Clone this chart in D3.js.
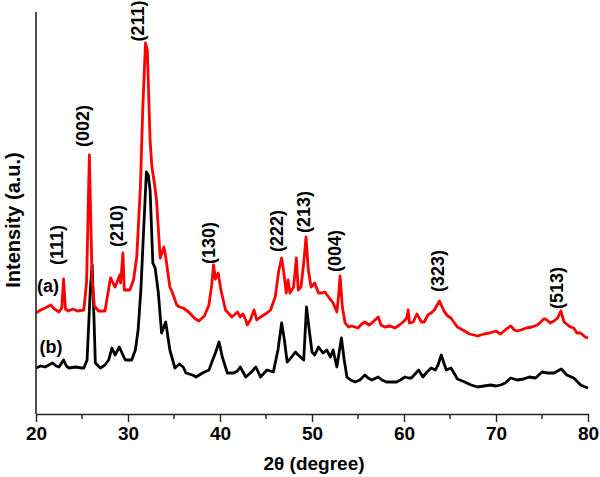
<!DOCTYPE html>
<html>
<head>
<meta charset="utf-8">
<script src="https://cdn.jsdelivr.net/npm/d3@7"></script>
<style>
  body { margin: 0; background: #fff; }
  text { font-family: "Liberation Sans", Arial, sans-serif; font-weight: bold; }
</style>
</head>
<body>
<svg id="chart" width="600" height="477"></svg>
<script>
"use strict";

// pattern (a), red: [2theta, intensity (a.u.)]
var patternA = [
  [20.0,101],[20.5,104],[21.0,106],[21.6,109],[22.0,105],[22.5,102],[22.8,106],[23.0,135],[23.2,105],
  [23.5,103],[24.0,105],[24.5,103],[25.2,104],[25.5,132],[25.8,259],[26.1,134],[26.35,108],[26.8,103],
  [27.5,103],[28.1,136],[28.6,127],[29.1,139],[29.2,131],[29.45,161],[29.6,124],[30.2,124],[30.6,134],
  [30.95,157],[31.35,227],[31.6,304],[31.9,371],[32.1,364],[32.4,274],[32.6,247],[32.85,232],[33.1,214],
  [33.5,156],[33.9,167],[34.1,157],[34.55,127],[34.8,122],[35.3,109],[35.6,107],[36.0,106],[36.6,102],
  [37.2,96],[37.7,93],[38.3,98],[38.8,109],[39.1,129],[39.3,149],[39.5,135],[39.8,141],[40.1,124],
  [40.6,104],[41.3,97],[41.9,102],[42.2,97],[42.5,100],[42.8,94],[42.95,89],[43.3,94],[43.7,104],
  [44.0,94],[44.4,97],[44.75,99],[45.1,101],[45.5,104],[46.0,117],[46.4,144],[46.7,156],[46.9,144],
  [47.2,121],[47.4,134],[47.6,121],[48.0,127],[48.3,156],[48.5,124],[48.8,127],[49.1,151],[49.35,177],
  [49.6,144],[49.9,127],[50.3,131],[50.7,121],[51.1,121],[51.4,122],[51.8,117],[52.3,111],[52.7,102],
  [52.9,119],[53.05,138],[53.3,107],[53.6,91],[54.0,87],[54.3,88],[55.0,86],[55.4,90],[55.75,92],
  [56.2,89],[56.5,91],[57.2,97],[57.5,89],[57.9,87],[58.5,88],[59.0,86],[59.5,89],[59.9,92],
  [60.3,96],[60.45,104],[60.6,91],[61.0,92],[61.4,100],[61.9,92],[62.2,92],[62.6,99],[62.95,101],
  [63.3,104],[63.85,113],[64.1,108],[64.4,102],[64.75,98],[65.1,96],[65.8,87],[66.6,83],[67.1,80],
  [67.6,79],[68.0,78],[68.7,80],[69.3,81],[70.0,83],[70.5,80],[71.0,84],[71.6,88],[72.0,84],
  [72.3,83],[72.7,84],[73.3,86],[73.9,87],[74.5,89],[75.2,95],[75.4,95],[75.9,91],[76.3,93],
  [76.7,96],[77.05,103],[77.4,92],[77.8,89],[78.1,87],[78.45,86],[78.8,81],[79.2,81],[79.7,77],[80.0,76]
];

// pattern (b), black
var patternB = [
  [20.0,46],[20.5,48],[21.0,47],[21.8,51],[22.2,48],[22.5,47],[23.0,54],[23.3,48],[23.6,46],
  [24.3,47],[25.0,46],[25.2,46],[25.55,54],[25.9,124],[26.1,149],[26.3,97],[26.45,51],[27.0,46],
  [27.5,49],[27.9,54],[28.25,66],[28.6,59],[29.05,67],[29.3,62],[29.7,54],[30.4,54],[30.8,64],
  [31.1,84],[31.4,124],[31.7,184],[32.0,242],[32.2,239],[32.4,224],[32.7,151],[32.95,146],[33.3,121],
  [33.65,81],[34.1,92],[34.55,64],[35.1,46],[35.6,50],[36.0,47],[36.3,41],[37.0,39],[37.4,37],
  [38.1,41],[38.8,44],[39.2,54],[39.5,61],[39.9,72],[40.25,57],[40.8,41],[41.5,41],[41.9,43],
  [42.2,47],[42.8,37],[43.3,41],[43.9,47],[44.4,37],[45.1,44],[45.8,42],[46.3,64],[46.7,91],
  [47.0,74],[47.3,52],[47.7,56],[48.2,62],[48.5,59],[49.1,54],[49.4,107],[49.7,84],[50.0,62],
  [50.3,59],[50.7,67],[51.2,61],[51.6,64],[52.0,57],[52.3,64],[52.7,47],[53.2,76],[53.5,54],
  [53.8,37],[54.2,34],[54.7,32],[55.2,34],[55.75,39],[56.1,36],[56.5,34],[57.2,37],[57.6,34],
  [58.1,32],[58.6,32],[59.2,32],[59.6,34],[60.1,37],[60.5,36],[60.8,36],[61.2,40],[61.6,44],
  [62.05,37],[62.5,42],[62.95,46],[63.4,44],[63.7,49],[64.05,59],[64.3,52],[64.6,44],[65.1,46],
  [65.5,40],[65.8,35],[66.6,32],[67.3,29],[68.0,27],[68.7,28],[69.4,29],[70.0,28],[70.5,29],
  [71.0,31],[71.6,36],[72.3,34],[73.0,35],[73.6,37],[74.3,36],[75.0,42],[75.6,41],[76.3,41],
  [76.7,43],[77.1,45],[77.7,39],[78.45,36],[79.2,29],[79.7,27],[80.0,26]
];

// reflection labels
var hklNames = ["(111)","(002)","(211)","(210)","(130)","(222)","(213)","(004)","(323)","(513)"];
var hklTheta = [22.3, 25.1, 31.0, 28.75, 38.8, 46.2, 49.1, 52.5, 63.7, 76.65];
var hklLevel = [169, 288, 393, 188, 171, 183, 202, 163, 143, 126];

var xTicks = [20, 30, 40, 50, 60, 70, 80];
var xMinorTicks = [25, 35, 45, 55, 65, 75];

var svg = d3.select("#chart");

var x = d3.scaleLinear().domain([20, 80]).range([36, 588]);
var y = d3.scaleLinear().domain([0, 402]).range([414, 12]);

var line = d3.line()
    .x(function(d) { return x(d[0]); })
    .y(function(d) { return y(d[1]); });

svg.append("path").datum(patternB)
    .attr("d", line)
    .attr("fill", "none")
    .attr("stroke", "#000")
    .attr("stroke-width", 2.8)
    .attr("stroke-linejoin", "round");

svg.append("path").datum(patternA)
    .attr("d", line)
    .attr("fill", "none")
    .attr("stroke", "#ff0000")
    .attr("stroke-width", 2.8)
    .attr("stroke-linejoin", "round");

// bottom axis
var xAxis = d3.axisBottom(x).tickValues(xTicks).tickSize(8).tickSizeOuter(0).tickPadding(5);
var gx = svg.append("g").attr("transform", "translate(0," + y(0) + ")").call(xAxis);
gx.select(".domain").attr("stroke", "#222").attr("stroke-width", 1.6);
gx.selectAll(".tick line").attr("stroke", "#222").attr("stroke-width", 1.4);
gx.selectAll(".tick text")
    .attr("font-size", 19)
    .attr("font-family", "Liberation Sans, Arial, sans-serif")
    .attr("font-weight", "bold")
    .attr("fill", "#000");

gx.selectAll(".minor").data(xMinorTicks).enter().append("line")
    .attr("x1", function(d) { return x(d); })
    .attr("x2", function(d) { return x(d); })
    .attr("y1", 0).attr("y2", 5)
    .attr("stroke", "#222").attr("stroke-width", 1.4);

// left axis, no ticks
svg.append("line")
    .attr("x1", x(20)).attr("x2", x(20))
    .attr("y1", y(402)).attr("y2", y(0))
    .attr("stroke", "#222").attr("stroke-width", 1.6);

// axis titles
svg.append("text")
    .attr("x", 314).attr("y", 470)
    .attr("text-anchor", "middle")
    .attr("font-size", 19)
    .text("2θ (degree)");

svg.append("text")
    .attr("transform", "translate(20,220) rotate(-90)")
    .attr("text-anchor", "middle")
    .attr("font-size", 20)
    .text("Intensity (a.u.)");

// hkl labels
svg.selectAll(".hkl").data(hklNames).enter().append("text")
    .attr("class", "hkl")
    .attr("transform", function(d, i) {
        return "translate(" + x(hklTheta[i]) + "," + y(hklLevel[i]) + ") rotate(-90)";
    })
    .attr("text-anchor", "middle")
    .attr("dy", "0.35em")
    .attr("font-size", 18)
    .text(function(d) { return d; });

// series labels
svg.append("text").attr("x", 48).attr("y", 286).attr("dy", "0.35em")
    .attr("text-anchor", "middle").attr("font-size", 18).text("(a)");
svg.append("text").attr("x", 51).attr("y", 347).attr("dy", "0.35em")
    .attr("text-anchor", "middle").attr("font-size", 18).text("(b)");
</script>
</body>
</html>
